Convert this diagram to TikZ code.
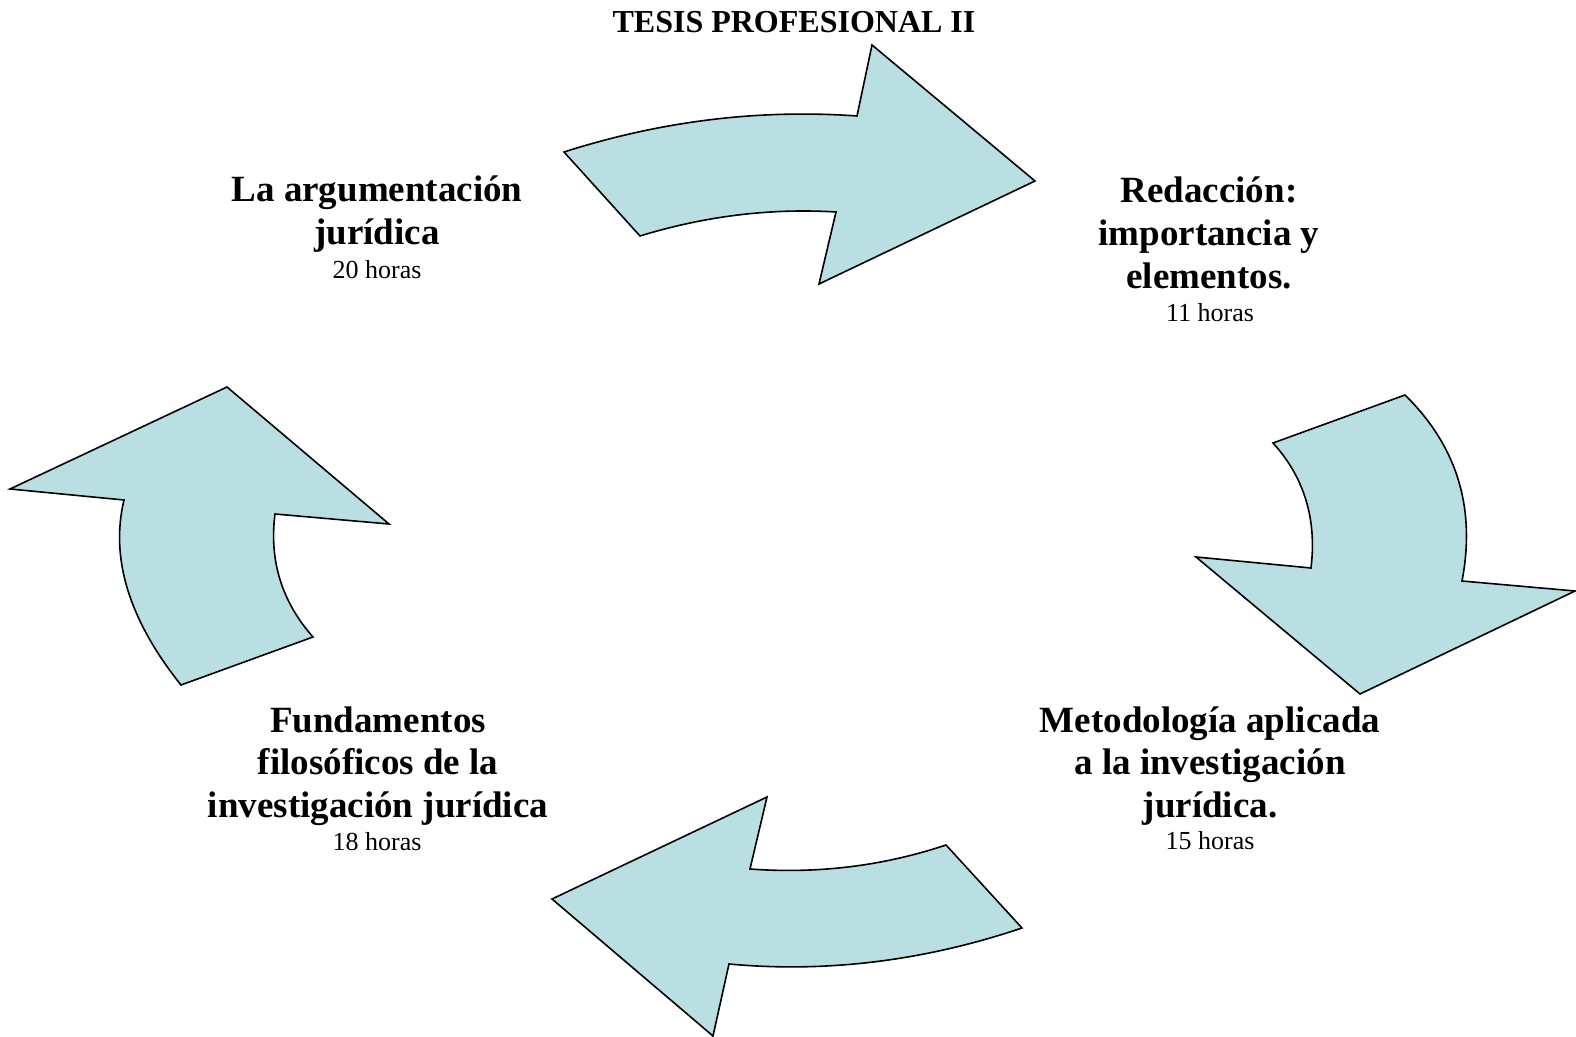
\documentclass[tikz,border=0pt]{standalone}
\usepackage{fontspec}
\setmainfont{Liberation Serif}
\definecolor{celeste}{RGB}{185,223,227}
\begin{document}
\begin{tikzpicture}[x=0.5pt,y=-0.5pt,line join=miter,
  flecha/.style={fill=celeste,draw=black,line width=0.8pt},
  tema/.style={font=\fontsize{18.5}{21.5}\selectfont\bfseries,align=center,anchor=base,inner sep=0pt},
  horas/.style={font=\fontsize{13}{15}\selectfont,anchor=base,inner sep=0pt}]
\useasboundingbox (0,0) rectangle (1576,1037);
\node[font=\fontsize{16}{18}\selectfont\bfseries,anchor=base,inner sep=0pt] (titulo) at (794,33) {TESIS PROFESIONAL II};
% flechas del ciclo
\draw[flecha] (564,152) .. controls (661,121) and (759,109) .. (857,116) -- (872,45) -- (1035,181)
  -- (819,284) -- (836,212) .. controls (771,208) and (705,216) .. (640,236) -- cycle;
\draw[flecha] (1405,395) .. controls (1457,446) and (1476,508) .. (1462,581) -- (1575,591) -- (1360,694)
  -- (1196,557) -- (1311,568) .. controls (1317,519) and (1304,477) .. (1273,443) -- cycle;
\draw[flecha] (1022,928) .. controls (924,961) and (826,973) .. (729,964) -- (713,1036) -- (552,899)
  -- (767,797) -- (750,869) .. controls (818,874) and (883,866) .. (946,845) -- cycle;
\draw[flecha] (181,685) .. controls (129,620) and (110,558) .. (124,500) -- (10,489) -- (227,387)
  -- (389,524) -- (275,514) .. controls (269,561) and (282,602) .. (313,637) -- cycle;
% textos (base = ultima linea)
\node[tema] (argumentacion) at (377,245) {La argumentación\\jurídica};
\node[horas] (h20) at (377,279) {20 horas};
\node[tema] (redaccion) at (1209,289) {Redacción:\\importancia y\\elementos.};
\node[horas] (h11) at (1210,322) {11 horas};
\node[tema] (metodologia) at (1210,818) {Metodología aplicada\\a la investigación\\jurídica.};
\node[horas] (h15) at (1210,849) {15 horas};
\node[tema] (fundamentos) at (378,818) {Fundamentos\\filosóficos de la\\investigación jurídica};
\node[horas] (h18) at (377,850) {18 horas};
\end{tikzpicture}
\end{document}
